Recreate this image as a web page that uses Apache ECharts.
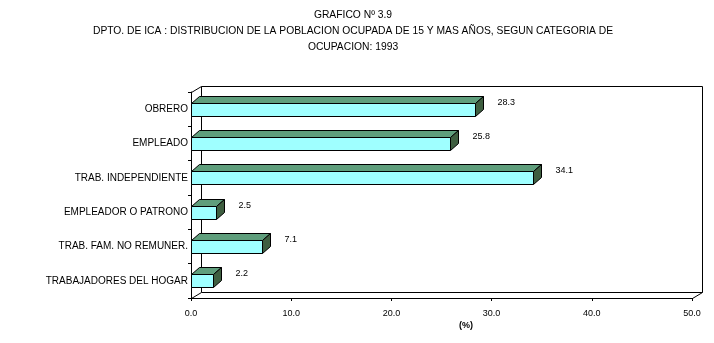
<!DOCTYPE html>
<html><head><meta charset="utf-8">
<script src="https://cdn.jsdelivr.net/npm/echarts@6/dist/echarts.min.js"></script>
<style>html,body{margin:0;padding:0;background:#fff}#c{width:714px;height:343px}</style>
</head><body><div id="c"></div>
<script>
const titleLines = ["GRAFICO Nº 3.9", "DPTO. DE ICA : DISTRIBUCION DE LA POBLACION OCUPADA DE 15 Y MAS AÑOS, SEGUN CATEGORIA DE", "OCUPACION: 1993"];
const categories = ["OBRERO", "EMPLEADO", "TRAB. INDEPENDIENTE", "EMPLEADOR O PATRONO", "TRAB. FAM. NO REMUNER.", "TRABAJADORES DEL HOGAR"];
const values = [28.3, 25.8, 34.1, 2.5, 7.1, 2.2];
const xTicks = [0, 10, 20, 30, 40, 50];
const axisName = "(%)";

const FONT = "Liberation Sans, Arial, sans-serif";
const DX = 8, DY = 7, BH = 13;
const G = {left: 191, right: 692, top: 92, bottom: 298}, WDX = 10, WDY = 6;

const chart = echarts.init(document.getElementById('c'));
const lineStyle = {stroke: '#000', lineWidth: 1};
function line(x1, y1, x2, y2) {
  return {type: 'line', shape: {x1: x1 + 0.5, y1: y1 + 0.5, x2: x2 + 0.5, y2: y2 + 0.5}, style: lineStyle, silent: true, z: 0};
}
const graphics = [
  line(G.left + WDX, G.top - WDY, G.right + WDX, G.top - WDY),
  line(G.right + WDX, G.top - WDY, G.right + WDX, G.bottom - WDY),
  line(G.left + WDX, G.top - WDY, G.left + WDX, G.bottom - WDY),
  line(G.left + WDX, G.bottom - WDY, G.right + WDX, G.bottom - WDY),
  line(G.left, G.top, G.left + WDX, G.top - WDY),
  line(G.left, G.bottom, G.left + WDX, G.bottom - WDY),
  line(G.right, G.bottom, G.right + WDX, G.bottom - WDY),
];
titleLines.forEach((t, i) => graphics.push({
  type: 'text', x: 353, y: 15 + i * 16, silent: true,
  style: {text: t, align: 'center', verticalAlign: 'middle', font: '10.3px ' + FONT, fill: '#000'}
}));
graphics.push({type: 'text', x: 466, y: 326, silent: true,
  style: {text: axisName, align: 'center', verticalAlign: 'middle', font: 'bold 9px ' + FONT, fill: '#000'}});

chart.setOption({
  animation: false,
  grid: {left: G.left, right: 714 - G.right, top: G.top, bottom: 343 - G.bottom},
  xAxis: {
    type: 'value', min: xTicks[0], max: xTicks[xTicks.length - 1], interval: 10,
    splitLine: {show: false},
    axisLine: {show: true, lineStyle: {color: '#000', width: 1}},
    axisTick: {show: true, length: 3, lineStyle: {color: '#000'}},
    axisLabel: {formatter: v => v.toFixed(1), color: '#000', fontFamily: FONT, fontSize: 9, margin: 11}
  },
  yAxis: {
    type: 'category', data: categories, inverse: true,
    axisLine: {show: true, lineStyle: {color: '#000', width: 1}},
    axisTick: {show: true, length: 3, lineStyle: {color: '#000'}},
    axisLabel: {color: '#000', fontFamily: FONT, fontSize: 10, margin: 3}
  },
  graphic: graphics,
  series: [{
    type: 'custom',
    data: values.map((v, i) => [v, i]),
    encode: {x: 0, y: 1},
    z: 5,
    renderItem: function (params, api) {
      const v = api.value(0), i = api.value(1);
      const p0 = api.coord([0, i]), p1 = api.coord([v, i]);
      const x0 = Math.round(p0[0]) + 0.5, x1 = Math.round(p1[0]) + 0.5;
      const yt = Math.round(p0[1] - BH / 2) + 0.5, yb = yt + BH;
      const st = {stroke: '#000', lineWidth: 1};
      return {type: 'group', children: [
        {type: 'polygon', shape: {points: [[x0, yt], [x1, yt], [x1 + DX, yt - DY], [x0 + DX, yt - DY]]}, style: Object.assign({fill: '#5F9E7C'}, st)},
        {type: 'polygon', shape: {points: [[x1, yt], [x1 + DX, yt - DY], [x1 + DX, yb - DY], [x1, yb]]}, style: Object.assign({fill: '#3E5E40'}, st)},
        {type: 'rect', shape: {x: x0, y: yt, width: x1 - x0, height: BH}, style: Object.assign({fill: '#9FFFFF'}, st)},
        {type: 'text', x: x1 + DX + 14, y: yt - 1, style: {text: v.toFixed(1), font: '9px ' + FONT, fill: '#000', verticalAlign: 'middle', align: 'left'}}
      ]};
    }
  }]
});
</script></body></html>
